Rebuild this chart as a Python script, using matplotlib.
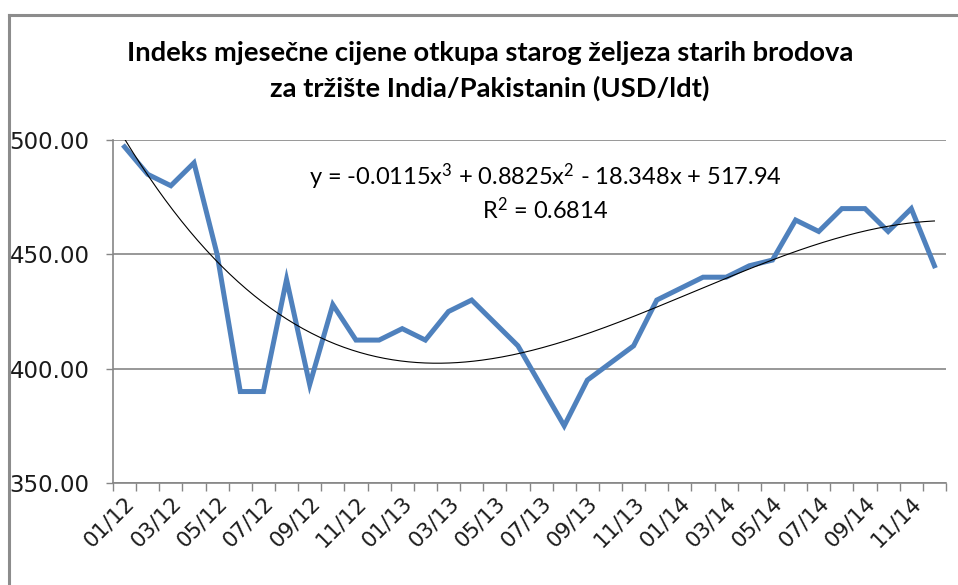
import numpy as np
import matplotlib
matplotlib.use("Agg")
import matplotlib.pyplot as plt
from matplotlib.lines import Line2D
from matplotlib.transforms import ScaledTranslation

plt.rcParams["mathtext.fontset"] = "custom"
plt.rcParams["mathtext.rm"] = "Lato"
plt.rcParams["mathtext.it"] = "Lato:italic"

# Monthly index values, 01/2012 - 12/2014 (USD/ldt)
months = [f"{m:02d}/{y}" for y in (12, 13, 14) for m in range(1, 13)]
prices = [497, 485, 480, 490, 450, 390, 390, 439, 393, 428, 412.5, 412.5,
          417.5, 412.5, 425, 430, 420, 410, 392.5, 375, 395, 402.5, 410, 430,
          435, 440, 440, 445, 447.5, 465, 460, 470, 470, 460, 470, 445]

# Cubic trend (x = month number, starting at 1)
trend_coef = [-0.0115, 0.8825, -18.348, 517.94]
trend_label = r"y = -0.0115x$^{\mathrm{3}}$ + 0.8825x$^{\mathrm{2}}$ - 18.348x + 517.94"
r2_label = r"R$^{\mathrm{2}}$ = 0.6814"

y_ticks = [350, 400, 450, 500]
title = ("Indeks mjesečne cijene otkupa starog željeza starih brodova\n"
         "za tržište India/Pakistanin (USD/ldt)")

W, H = 958, 585
fig = plt.figure(figsize=(W / 100, H / 100), dpi=100)

# chart frame (top and left edges)
frame_kw = dict(color="#8c8c8c", lw=2.2, transform=fig.transFigure)
fig.add_artist(Line2D([9 / W, 1.0], [1 - 15 / H, 1 - 15 / H], **frame_kw))
fig.add_artist(Line2D([9 / W, 9 / W], [0.0, 1 - 15 / H], **frame_kw))

ax = fig.add_axes([113 / W, 1 - 483 / H, (946 - 113) / W, (483 - 140) / H])

x = np.arange(len(prices))
ax.plot(x, prices, color="#4F81BD", lw=3.6, solid_joinstyle="miter", zorder=3)

t = np.linspace(1, len(prices), 400)
ax.plot(t - 1, np.polyval(trend_coef, t), color="black", lw=0.8, zorder=4)

ax.set_xlim(-0.5, len(prices) - 0.5)
ax.set_ylim(350, 500)

# horizontal gridlines
ax.set_yticks(y_ticks)
ax.set_yticklabels([f"{v:.2f}" for v in y_ticks])
ax.yaxis.grid(True, color="#868686", lw=1.2)
ax.set_axisbelow(True)

for s in ("top", "right"):
    ax.spines[s].set_visible(False)
for s in ("left", "bottom"):
    ax.spines[s].set_color("#868686")
    ax.spines[s].set_linewidth(1.2)

ax.tick_params(axis="y", length=5, width=1, color="#868686", pad=12,
               labelsize=16.5, labelcolor="#1a1a1a")

# category boundary ticks, labels on every second month
ax.set_xticks(np.arange(-0.5, len(prices), 1))
ax.set_xticklabels([])
ax.tick_params(axis="x", which="major", length=6, width=1, color="#868686")
ax.set_xticks(x[::2], minor=True)
ax.set_xticklabels(months[::2], minor=True)
ax.tick_params(axis="x", which="minor", length=0, pad=12, labelsize=15.5,
               labelcolor="#1a1a1a")
shift = ScaledTranslation(7 / 100, 0, fig.dpi_scale_trans)
for lbl in ax.get_xticklabels(minor=True):
    lbl.set_rotation(45)
    lbl.set_rotation_mode("anchor")
    lbl.set_ha("right")
    lbl.set_va("center")
    lbl.set_transform(lbl.get_transform() + shift)

fig.text(490 / W, 1 - 71 / H, title, ha="center", va="center",
         fontsize=19.7, fontweight="bold", linespacing=1.5,
         family=["Lato", "DejaVu Sans"])

ax.text(545 / W, 1 - 177 / H, trend_label, transform=fig.transFigure,
        ha="center", va="center", fontsize=17, family=["Lato", "DejaVu Sans"])
ax.text(545 / W, 1 - 210 / H, r2_label, transform=fig.transFigure,
        ha="center", va="center", fontsize=17, family=["Lato", "DejaVu Sans"])

fig.savefig("out.png", dpi=100)
